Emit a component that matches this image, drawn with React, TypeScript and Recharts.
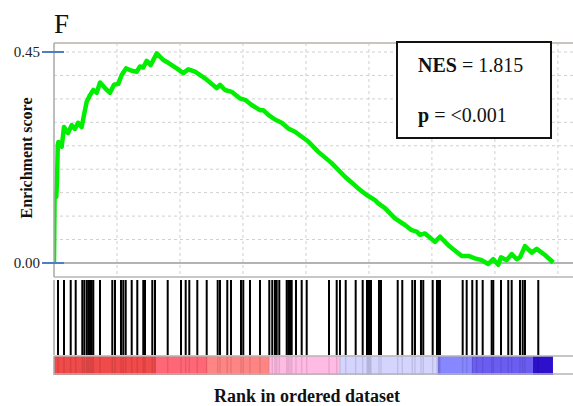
import { LineChart, Line, XAxis, YAxis, CartesianGrid, ReferenceLine, BarChart, Bar } from "recharts";

// GSEA enrichment plot, panel F — running score, hit positions, ranked-list colour bar.

const rank = [
  0, 25, 60, 90, 120, 150, 175, 306, 397, 556, 702, 833, 953, 1099, 1191, 1298, 1429, 1560, 1695, 1826,
  2024, 2223, 2381, 2552, 2687, 2858, 3084, 3282, 3413, 3544, 3679, 3838, 4076, 4338, 4537, 4870, 5132,
  5330, 5596, 5993, 6458, 6589, 6787, 7053, 7382, 7581, 7847, 8176, 8307, 8506, 8771, 9038, 9300, 9565,
  10093, 10490, 11022, 11550, 12078, 12411, 12741, 12872, 13137, 13534, 13931, 14197, 14396, 14527,
  14725, 15122, 15320, 15650, 16182, 16444, 16710, 16975, 17237, 17436, 17634, 17742, 17968, 18166,
  18366, 18496, 18694, 18960, 19159, 19488, 19818,
];
const score = [
  0, 0.149, 0.141, 0.141, 0.175, 0.252, 0.258, 0.248, 0.29, 0.277, 0.294, 0.286, 0.299, 0.29, 0.316,
  0.344, 0.358, 0.369, 0.363, 0.385, 0.373, 0.363, 0.38, 0.382, 0.401, 0.415, 0.41, 0.408, 0.419, 0.417,
  0.431, 0.422, 0.447, 0.433, 0.427, 0.415, 0.405, 0.413, 0.408, 0.394, 0.373, 0.38, 0.369, 0.365, 0.351,
  0.348, 0.337, 0.326, 0.326, 0.316, 0.306, 0.299, 0.287, 0.28, 0.259, 0.237, 0.213, 0.184, 0.159, 0.145,
  0.134, 0.127, 0.117, 0.095, 0.081, 0.07, 0.067, 0.06, 0.063, 0.045, 0.056, 0.038, 0.015, 0.015, 0.01,
  0.006, -0.002, 0.008, -0.004, 0.012, 0.006, 0.019, 0.008, 0.012, 0.036, 0.022, 0.03, 0.017, 0.001,
];
const hits = [
  159, 397, 663, 861, 1123, 1203, 1298, 1361, 1429, 1496, 1560, 1826, 2314, 2421, 2659, 2750, 2846, 3084,
  3306, 3544, 3612, 3902, 4009, 4513, 5041, 5227, 5370, 5688, 6061, 6497, 6589, 6878, 7025, 7422, 7513,
  7779, 8176, 8545, 8664, 8771, 8839, 8942, 9236, 9299, 9367, 9434, 9605, 9831, 10030, 10915, 11221,
  11351, 11578, 11974, 12252, 12423, 12463, 12502, 12542, 12582, 12899, 12979, 13642, 13824, 14221,
  14328, 14566, 14657, 15030, 15201, 15241, 15281, 15320, 16221, 16380, 16602, 16777, 17015, 17372,
  17436, 17742, 18031, 18166, 18496, 18604, 18694, 19222,
];
const barStops = [0, 4048, 6073, 8533, 11311, 15241, 16590, 19011, 19805];
const barColors = ["#f04a4a", "#ff6676", "#ff8484", "#ffbbe4", "#d4d4ff", "#8787ff", "#6c5df2", "#2c10cc"];
const gridRanks = [2500, 5000, 7500, 10000, 12500, 15000, 17500, 20000];
const gridScores = [0.05, 0.1, 0.15, 0.2, 0.25, 0.3, 0.35, 0.4, 0.45];
const scoreTicks = [0, 0.45];
const nes = "1.815";
const pValue = "<0.001";

const data = rank.map((r, i) => ({ rank: r, es: score[i] }));
const hitData = hits.map((h) => ({ rank: h, hit: 1 }));
// one row, one stacked piece per colour band
const bandRow: Record<string, number | string> = { name: "list" };
barColors.forEach((_, i) => {
  bandRow[`b${i}`] = barStops[i + 1] - barStops[i];
});

const X_DOMAIN: [number, number] = [0, 20600];
const Y_DOMAIN: [number, number] = [-0.0299, 0.4692];
const SERIF = "'Liberation Serif', 'Times New Roman', serif";

function ScoreTick({ x, y, payload }: any) {
  return (
    <g>
      <line x1={x + 2} x2={x + 24} y1={y} y2={y} stroke="#4f7fc0" strokeWidth={2} />
      <text x={x} y={y} dy={5} textAnchor="end" fontFamily={SERIF} fontSize={15} fill="#222">
        {Number(payload.value).toFixed(2)}
      </text>
    </g>
  );
}

// hit marks are narrower than recharts' band, so draw a fixed 2px stroke centred on the bar
function HitMark({ x, y, width, height }: any) {
  return <rect x={x + width / 2 - 1} y={y} width={2} height={height} fill="#000" />;
}

export default function App() {
  return (
    <div style={{ position: "absolute", left: 0, top: 0, width: 573, height: 406, background: "#fff", overflow: "hidden" }}>
      <div style={{ position: "absolute", left: 0, top: 0 }}>
        <LineChart width={573} height={278} data={data} margin={{ top: 43, right: 0, left: 53, bottom: 1 }}>
          <CartesianGrid
            stroke="#d0d0d0"
            strokeDasharray="3 3"
            horizontalValues={gridScores}
            verticalValues={gridRanks}
          />
          <XAxis type="number" dataKey="rank" domain={X_DOMAIN} hide allowDataOverflow />
          <YAxis
            type="number"
            width={1}
            domain={Y_DOMAIN}
            ticks={scoreTicks}
            tick={<ScoreTick />}
            tickLine={false}
            tickSize={12}
            tickMargin={2}
            axisLine={{ stroke: "#a8a8a8", strokeWidth: 1.5 }}
            allowDataOverflow
          />
          <ReferenceLine y={Y_DOMAIN[1]} stroke="#c9c4bc" strokeWidth={2} />
          <ReferenceLine y={Y_DOMAIN[0]} stroke="#b4b4b4" strokeWidth={1.5} />
          <ReferenceLine y={0} stroke="#9a9a9a" strokeWidth={1.5} />
          <Line
            type="linear"
            dataKey="es"
            stroke="#00ee00"
            strokeWidth={4.5}
            strokeLinejoin="round"
            dot={false}
            isAnimationActive={false}
          />
        </LineChart>
      </div>

      <div style={{ position: "absolute", left: 0, top: 278 }}>
        <BarChart width={573} height={77} data={hitData} margin={{ top: 2, right: 0, left: 53, bottom: 0 }}>
          <XAxis type="number" dataKey="rank" domain={X_DOMAIN} hide allowDataOverflow />
          <YAxis type="number" domain={[0, 1]} width={1} tick={false} tickLine={false} axisLine={{ stroke: "#a8a8a8", strokeWidth: 1.5 }} />
          <Bar dataKey="hit" fill="#000" shape={<HitMark />} isAnimationActive={false} />
        </BarChart>
      </div>

      <div style={{ position: "absolute", left: 0, top: 355 }}>
        <BarChart
          width={573}
          height={21}
          data={[bandRow]}
          layout="vertical"
          barCategoryGap={0}
          margin={{ top: 1, right: 0, left: 53, bottom: 1 }}
        >
          <XAxis type="number" domain={X_DOMAIN} hide allowDataOverflow />
          <YAxis type="category" dataKey="name" width={1} tick={false} tickLine={false} axisLine={{ stroke: "#a8a8a8", strokeWidth: 1.5 }} />
          {barColors.map((c, i) => (
            <Bar key={i} dataKey={`b${i}`} stackId="list" fill={c} isAnimationActive={false} />
          ))}
          {hits.map((h, i) => (
            <ReferenceLine key={i} x={h} stroke="#000" strokeOpacity={0.1} strokeWidth={1.5} />
          ))}
        </BarChart>
      </div>

      <svg width={573} height={406} style={{ position: "absolute", left: 0, top: 0, pointerEvents: "none" }}>
        <line x1={54} x2={573} y1={356} y2={356} stroke="#b4b4b4" strokeWidth={1.5} />
        <line x1={54} x2={573} y1={374} y2={374} stroke="#b4b4b4" strokeWidth={1.5} />
        <text x={54} y={33} fontFamily={SERIF} fontSize={27} fill="#111">F</text>
        <text
          x={0}
          y={0}
          transform="translate(32,158) rotate(-90)"
          textAnchor="middle"
          fontFamily={SERIF}
          fontSize={16}
          fontWeight="bold"
          fill="#111"
        >
          Enrichment score
        </text>
        <text x={307} y={402} textAnchor="middle" fontFamily={SERIF} fontSize={18} fontWeight="bold" fill="#111">
          Rank in ordered dataset
        </text>
        <rect x={397} y={42} width={154} height={96} fill="#fff" stroke="#111" strokeWidth={2} />
        <text x={418} y={72} fontFamily={SERIF} fontSize={20} fill="#111">
          <tspan fontWeight="bold">NES</tspan> = {nes}
        </text>
        <text x={418} y={122} fontFamily={SERIF} fontSize={20} fill="#111">
          <tspan fontWeight="bold">p</tspan> = {pValue}
        </text>
      </svg>
    </div>
  );
}
